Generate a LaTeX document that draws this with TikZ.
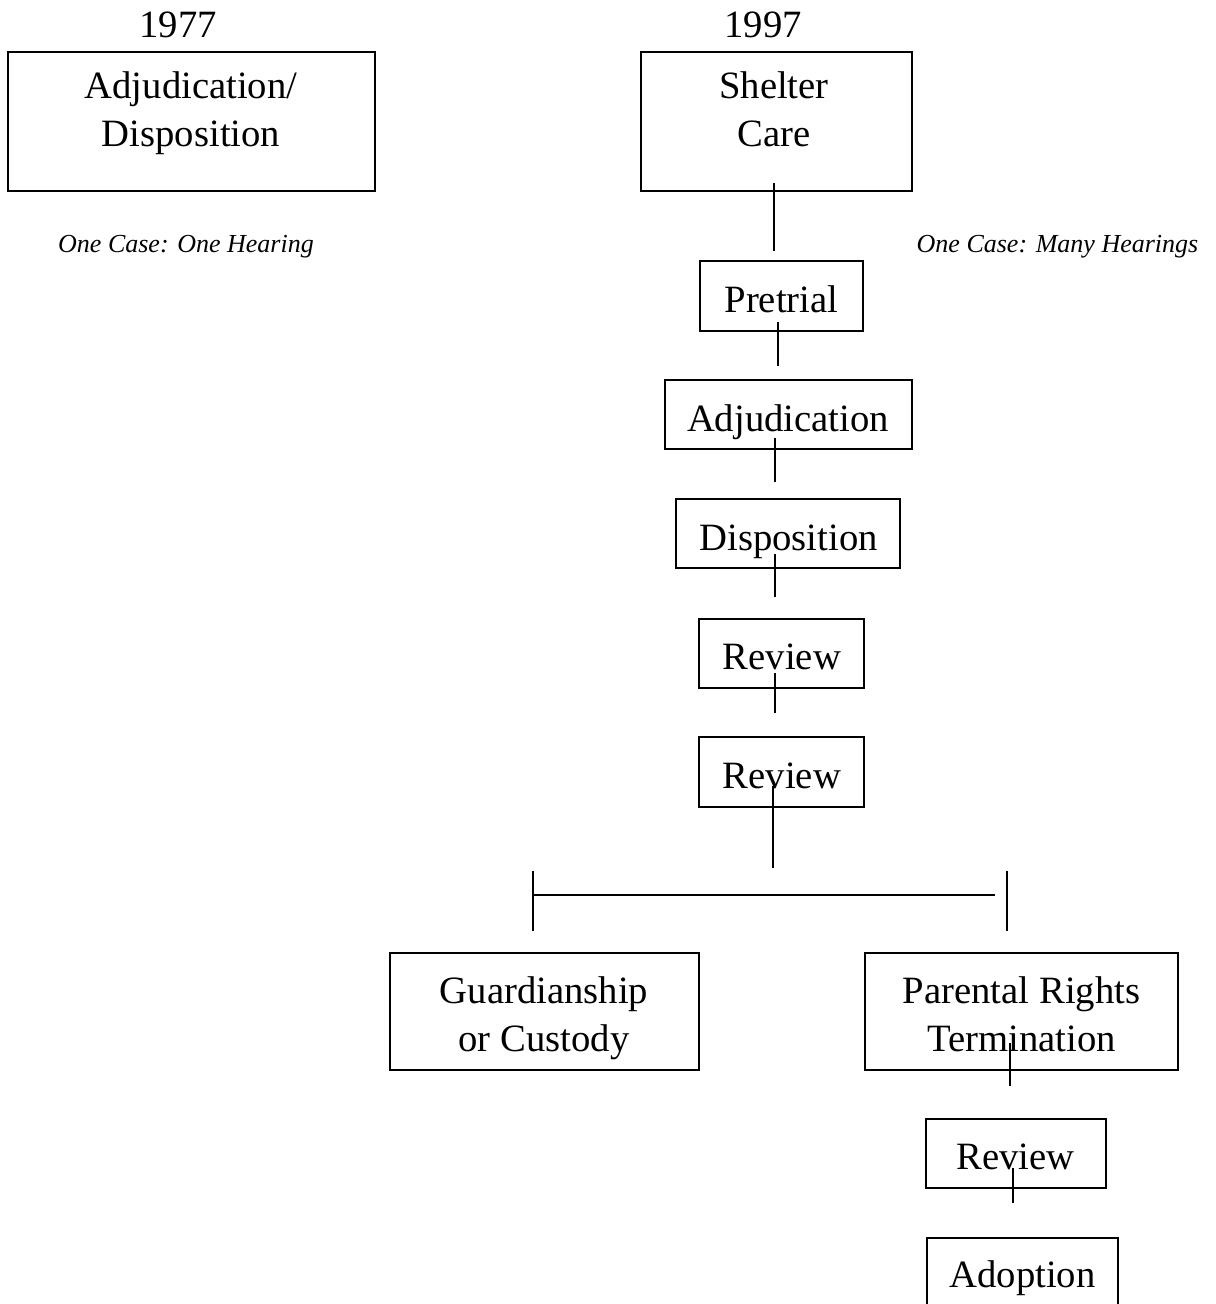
\documentclass[tikz,border=0pt]{standalone}
\usepackage{fontspec}
\setmainfont{Liberation Serif}
\usetikzlibrary{calc}
\begin{document}
\begin{tikzpicture}[x=0.75pt,y=-0.75pt,
  box/.style 2 args={draw, line width=1.9pt, rectangle, inner sep=0pt,
    minimum width=#1*0.75pt, minimum height=#2*0.75pt},
  lbl/.style={inner sep=0pt, anchor=base, align=center,
    font=\fontsize{29}{36}\selectfont},
  note/.style={inner sep=0pt, anchor=base, font=\fontsize{19.5}{23}\selectfont\itshape},
  conn/.style={line width=1.8pt}]
\useasboundingbox (0,0) rectangle (1215,1304);
\clip (0,0) rectangle (1215,1304);

% years
\node[lbl] (y1977) at (178,37) {1977};
\node[lbl] (y1997) at (763,37) {1997};

% boxes
\node[box={367}{139}] (old) at (191.5,121.5) {};
\node[box={271}{139}] (shelter) at (776.5,121.5) {};
\node[box={163}{70}] (pretrial) at (781.5,296) {};
\node[box={247}{69}] (adj) at (788.5,414.5) {};
\node[box={224}{69}] (disp) at (788,533.5) {};
\node[box={165}{69}] (rev1) at (781.5,653.5) {};
\node[box={165}{70}] (rev2) at (781.5,772) {};
\node[box={309}{117}] (guard) at (544.5,1011.5) {};
\node[box={313}{117}] (parental) at (1021.5,1011.5) {};
\node[box={180}{69}] (rev3) at (1016,1153.5) {};
\node[box={191}{100}] (adopt) at (1022.5,1288) {};

% box texts (base anchor = baseline of the last line)
\node[lbl] (oldt) at (191,146) {Adjudication/\\Disposition};
\node[lbl] (sheltert) at (774,146) {Shelter\\Care};
\node[lbl] (pretrialt) at (781.5,312) {Pretrial};
\node[lbl] (adjt) at (788,431) {Adjudication};
\node[lbl] (dispt) at (788.5,550) {Disposition};
\node[lbl] (rev1t) at (782,669) {Review};
\node[lbl] (rev2t) at (782,788) {Review};
\node[lbl] (guardt) at (544,1051) {Guardianship\\or Custody};
\node[lbl] (parentalt) at (1021.5,1051) {Parental Rights\\Termination};
\node[lbl] (rev3t) at (1015.5,1169) {Review};
\node[lbl] (adoptt) at (1022.5,1287) {Adoption};

% notes
\node[note] (note1) at (186,252) {One Case: One Hearing};
\node[note] (note2) at (1057.5,252) {One Case: Many Hearings};

% connectors
\draw[conn] ($(shelter.south)+(-2.5,-9)$) -- ($(pretrial.north)+(-7.5,-9)$);
\draw[conn] ($(pretrial.south)+(-3.5,-10)$) -- ($(adj.north)+(-10.5,-13)$);
\draw[conn] ($(adj.south)+(-13.5,-12)$) -- ($(disp.north)+(-13,-16)$);
\draw[conn] ($(disp.south)+(-13,-15)$) -- ($(rev1.north)+(-6.5,-21)$);
\draw[conn] ($(rev1.south)+(-6.5,-16)$) -- ($(rev2.north)+(-6.5,-23)$);
\coordinate (barTop) at (773,868);
\draw[conn] ($(rev2.south)+(-8.5,-22)$) -- (barTop);
\coordinate (barL) at (533,895);
\coordinate (barR) at (995,895);
\draw[conn] (barL) -- (barR);
\draw[conn] ($(guard.north)+(-11.5,-81)$) -- ($(guard.north)+(-11.5,-21)$);
\draw[conn] ($(parental.north)+(-14.5,-81)$) -- ($(parental.north)+(-14.5,-21)$);
\draw[conn] ($(parental.south)+(-11.5,-28)$) -- ($(rev3.north)+(-6,-32)$);
\draw[conn] ($(rev3.south)+(-3,-21)$) -- ($(adopt.north)+(-9.5,-34)$);
\end{tikzpicture}
\end{document}
